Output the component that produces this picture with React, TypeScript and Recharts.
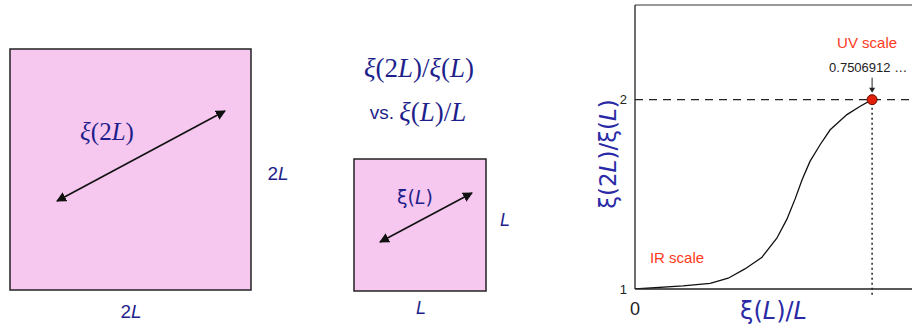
import { LineChart, Line, XAxis, YAxis, ReferenceLine, ReferenceDot } from "recharts";

// ξ(L)/L along the curve
const xiOverL = [0, 0.152, 0.238, 0.295, 0.348, 0.401, 0.449, 0.481, 0.507, 0.529, 0.554, 0.586, 0.618, 0.671, 0.713, 0.7506912];
// ξ(2L)/ξ(L)
const ratio = [1, 1.016, 1.03, 1.057, 1.106, 1.166, 1.268, 1.369, 1.476, 1.577, 1.674, 1.762, 1.841, 1.921, 1.965, 2];

const xTicks = [0];
const yTicks = [1, 2];
const uvPoint = { x: 0.7506912, y: 2 };
const irLabelAt = { x: 0.133, y: 1.164 };

const data = xiOverL.map((x, i) => ({ x, y: ratio[i] }));

const NAVY = "#1f1f8c";
const RED = "#ff3a1c";

const UvLabel = (props: any) => {
  const { viewBox } = props;
  const cx = viewBox.x + viewBox.width / 2;
  const cy = viewBox.y + viewBox.height / 2;
  return (
    <g>
      <text x={cx - 5} y={cy - 57} textAnchor="middle" dominantBaseline="central" fontFamily="Liberation Sans, sans-serif" fontSize={15} fill={RED}>
        UV scale
      </text>
      <text x={cx - 4} y={cy - 32} textAnchor="middle" dominantBaseline="central" fontFamily="Liberation Sans, sans-serif" fontSize={13} fill="#222">
        0.7506912 …
      </text>
      <line x1={cx} y1={cy - 22} x2={cx} y2={cy - 11} stroke="#222" strokeWidth={1} />
      <path d={`M${cx - 3},${cy - 12} L${cx + 3},${cy - 12} L${cx},${cy - 7} Z`} fill="#222" />
    </g>
  );
};

const IrLabel = (props: any) => {
  const { viewBox } = props;
  return (
    <text x={viewBox.x} y={viewBox.y} textAnchor="middle" dominantBaseline="central" fontFamily="Liberation Sans, sans-serif" fontSize={15} fill={RED}>
      IR scale
    </text>
  );
};

const YLabel = (props: any) => {
  const { viewBox } = props;
  const x = viewBox.x + 48;
  const y = viewBox.y + viewBox.height / 2 + 7;
  return (
    <text x={x} y={y} transform={`rotate(-90 ${x} ${y})`} textAnchor="middle" dominantBaseline="central" fontFamily="DejaVu Sans, sans-serif" fontSize={23} fill="#2a2aa6">
      ξ(2<tspan fontStyle="italic">L</tspan>)/ξ(<tspan fontStyle="italic">L</tspan>)
    </text>
  );
};

const XLabel = (props: any) => {
  const { viewBox } = props;
  const x = viewBox.x + viewBox.width / 2;
  const y = viewBox.y + 22;
  return (
    <text x={x} y={y} textAnchor="middle" dominantBaseline="central" fontFamily="DejaVu Sans, sans-serif" fontSize={24} fill="#2a2aa6">
      ξ(<tspan fontStyle="italic">L</tspan>)/<tspan fontStyle="italic">L</tspan>
    </text>
  );
};

function Diagrams() {
  return (
    <svg width={560} height={324} style={{ position: "absolute", left: 0, top: 0 }}>
      <defs>
        <marker id="head" viewBox="0 0 10 10" refX="9" refY="5" markerWidth="10" markerHeight="10" markerUnits="userSpaceOnUse" orient="auto-start-reverse">
          <path d="M0,0 L10,5 L0,10 Z" fill="#111" />
        </marker>
      </defs>

      {/* big square */}
      <rect x={10} y={49} width={241} height={241} fill="#f7c8ef" stroke="#222" strokeWidth={1.5} />
      <line x1={57} y1={201} x2={225} y2={111} stroke="#111" strokeWidth={1.6} markerStart="url(#head)" markerEnd="url(#head)" />
      <text x={107} y={131} textAnchor="middle" dominantBaseline="central" fontFamily="Liberation Serif, serif" fontSize={25} fill={NAVY}>
        <tspan fontStyle="italic">ξ</tspan>(2<tspan fontStyle="italic">L</tspan>)
      </text>
      <text x={278} y={173} textAnchor="middle" dominantBaseline="central" fontFamily="Liberation Sans, sans-serif" fontSize={19} fill={NAVY}>
        2<tspan fontStyle="italic">L</tspan>
      </text>
      <text x={131} y={311} textAnchor="middle" dominantBaseline="central" fontFamily="Liberation Sans, sans-serif" fontSize={19} fill={NAVY}>
        2<tspan fontStyle="italic">L</tspan>
      </text>

      {/* title */}
      <text x={419} y={68} textAnchor="middle" dominantBaseline="central" fontFamily="Liberation Serif, serif" fontSize={27} fill={NAVY}>
        <tspan fontStyle="italic">ξ</tspan>(2<tspan fontStyle="italic">L</tspan>)/<tspan fontStyle="italic">ξ</tspan>(<tspan fontStyle="italic">L</tspan>)
      </text>
      <text x={418} y={112} textAnchor="middle" dominantBaseline="central" fill={NAVY}>
        <tspan fontFamily="Liberation Sans, sans-serif" fontSize={19}>vs. </tspan>
        <tspan fontFamily="Liberation Serif, serif" fontSize={27}>
          <tspan fontStyle="italic">ξ</tspan>(<tspan fontStyle="italic">L</tspan>)/<tspan fontStyle="italic">L</tspan>
        </tspan>
      </text>

      {/* small square */}
      <rect x={354} y={159} width={132} height={132} fill="#f7c8ef" stroke="#222" strokeWidth={1.5} />
      <line x1={380} y1={242} x2={472} y2={193} stroke="#111" strokeWidth={1.6} markerStart="url(#head)" markerEnd="url(#head)" />
      <text x={415} y={197} textAnchor="middle" dominantBaseline="central" fontFamily="DejaVu Sans, sans-serif" fontSize={19} fill={NAVY}>
        ξ(<tspan fontStyle="italic">L</tspan>)
      </text>
      <text x={505} y={220} textAnchor="middle" dominantBaseline="central" fontFamily="Liberation Sans, sans-serif" fontSize={18} fontStyle="italic" fill={NAVY}>
        L
      </text>
      <text x={421} y={308} textAnchor="middle" dominantBaseline="central" fontFamily="Liberation Sans, sans-serif" fontSize={18} fontStyle="italic" fill={NAVY}>
        L
      </text>
    </svg>
  );
}

export default function App() {
  return (
    <div style={{ position: "absolute", left: 0, top: 0, width: 912, height: 324, background: "#fff", overflow: "hidden" }}>
      <Diagrams />
      <div style={{ position: "absolute", left: 560, top: 0 }}>
        <LineChart width={352} height={324} data={data} margin={{ top: 5, right: 0, bottom: 0, left: 0 }}>
          <XAxis
            dataKey="x"
            type="number"
            domain={[0, 0.877]}
            ticks={xTicks}
            allowDataOverflow
            height={35}
            tickLine={false}
            tickSize={0}
            tickMargin={13}
            axisLine={{ stroke: "#222", strokeWidth: 1.3 }}
            tick={{ fill: "#222", fontSize: 18, fontFamily: "Liberation Sans, sans-serif" }}
            label={<XLabel />}
          />
          <YAxis
            type="number"
            domain={[1, 2.5]}
            ticks={yTicks}
            allowDataOverflow
            width={75}
            tickLine={false}
            tickSize={0}
            tickMargin={8}
            axisLine={{ stroke: "#222", strokeWidth: 1.3 }}
            tick={{ fill: "#222", fontSize: 13, fontFamily: "Liberation Sans, sans-serif" }}
            label={<YLabel />}
          />
          <ReferenceLine y={2.5} stroke="#333" strokeWidth={1} />
          <ReferenceLine y={2} stroke="#222" strokeWidth={1.2} strokeDasharray="8 6" />
          <ReferenceLine
            segment={[{ x: uvPoint.x, y: 0.97 }, { x: uvPoint.x, y: 2 }]}
            stroke="#222"
            strokeWidth={1.5}
            strokeDasharray="2 3"
            ifOverflow="visible"
          />
          <Line type="linear" dataKey="y" stroke="#111" strokeWidth={1.3} dot={false} isAnimationActive={false} />
          <ReferenceDot x={uvPoint.x} y={uvPoint.y} r={5} fill="#e0200a" stroke="#6a0a00" strokeWidth={1} label={<UvLabel />} />
          <ReferenceDot x={irLabelAt.x} y={irLabelAt.y} r={0} fill="none" stroke="none" label={<IrLabel />} />
        </LineChart>
      </div>
    </div>
  );
}
